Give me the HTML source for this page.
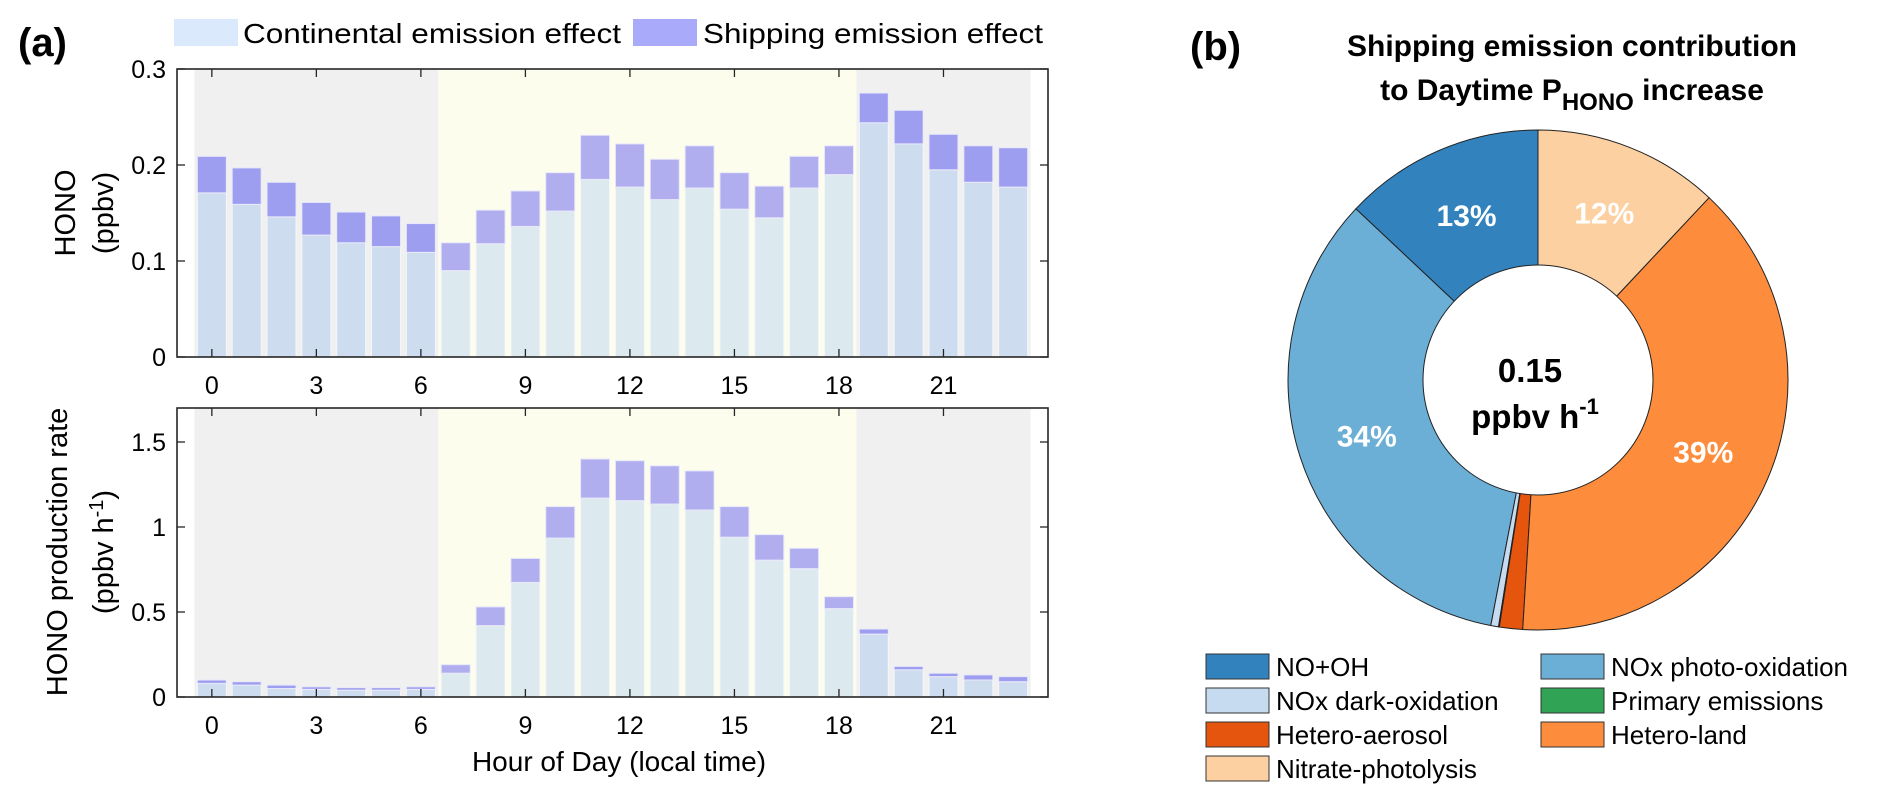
<!DOCTYPE html>
<html><head><meta charset="utf-8"><style>
html,body{margin:0;padding:0;background:#fff;}
svg{display:block;font-family:"Liberation Sans",Arial,sans-serif;}
</style></head><body>
<svg id="fig" width="1892" height="799" viewBox="0 0 1892 799" xmlns="http://www.w3.org/2000/svg">
  <text x="18" y="56" font-size="40" font-weight="bold">(a)</text>
  <g>
    <rect x="174" y="19" width="64" height="27" fill="#dbe9fd"/>
    <text x="243" y="43" font-size="28" textLength="378" lengthAdjust="spacingAndGlyphs">Continental emission effect</text>
    <rect x="633" y="19" width="64" height="27" fill="#aaaafa"/>
    <text x="703" y="43" font-size="28" textLength="340" lengthAdjust="spacingAndGlyphs">Shipping emission effect</text>
  </g>
  <g id="top"></g>
  <g id="bot"></g>
  <text x="619" y="771" font-size="28" text-anchor="middle">Hour of Day (local time)</text>
  <g>
    <text transform="translate(75,213) rotate(-90)" font-size="29" text-anchor="middle">HONO</text>
    <text transform="translate(113,213) rotate(-90)" font-size="29" text-anchor="middle">(ppbv)</text>
  </g>
  <g>
    <text transform="translate(67,552) rotate(-90)" font-size="29" text-anchor="middle">HONO production rate</text>
    <text transform="translate(113,552) rotate(-90)" font-size="29" text-anchor="middle">(ppbv h<tspan dy="-10" font-size="20">-1</tspan><tspan dy="10">)</tspan></text>
  </g>
  <text x="1190" y="60" font-size="40" font-weight="bold">(b)</text>
  <g font-weight="bold" font-size="30" text-anchor="middle">
    <text x="1572" y="56">Shipping emission contribution</text>
    <text x="1572" y="100">to Daytime P<tspan dy="10" font-size="24">HONO</tspan><tspan dy="-10"> increase</tspan></text>
  </g>
  <g id="pie"></g>
  <g font-weight="bold" font-size="33" text-anchor="middle">
    <text x="1530" y="382">0.15</text>
    <text x="1535" y="428">ppbv h<tspan dy="-14" font-size="22">-1</tspan></text>
  </g>
  <g id="pleg"></g>
</svg>
<script>
const hours = [0,1,2,3,4,5,6,7,8,9,10,11,12,13,14,15,16,17,18,19,20,21,22,23];
const honoContinental = [0.171,0.159,0.146,0.127,0.119,0.115,0.109,0.090,0.118,0.136,0.152,0.185,0.177,0.164,0.176,0.154,0.145,0.176,0.190,0.244,0.222,0.195,0.182,0.177];
const honoTotal = [0.209,0.197,0.182,0.161,0.151,0.147,0.139,0.119,0.153,0.173,0.192,0.231,0.222,0.206,0.220,0.192,0.178,0.209,0.220,0.275,0.257,0.232,0.220,0.218];
const rateContinental = [0.08,0.07,0.05,0.045,0.04,0.04,0.045,0.14,0.42,0.674,0.935,1.17,1.155,1.135,1.10,0.94,0.805,0.755,0.52,0.37,0.16,0.12,0.10,0.09];
const rateTotal = [0.10,0.09,0.07,0.06,0.055,0.055,0.06,0.19,0.53,0.815,1.12,1.40,1.39,1.36,1.33,1.12,0.955,0.875,0.59,0.40,0.18,0.14,0.13,0.12];
const xTicks = [0,3,6,9,12,15,18,21];
const topYTicks = [0,0.1,0.2,0.3];
const topYLabels = ["0","0.1","0.2","0.3"];
const botYTicks = [0,0.5,1,1.5];
const botYLabels = ["0","0.5","1","1.5"];
const pieLabels = ["NO+OH","NOx photo-oxidation","NOx dark-oxidation","Primary emissions","Hetero-aerosol","Hetero-land","Nitrate-photolysis"];
const pieValues = [13,34,0.5,0.05,1.5,39,12];
const pieColors = ["#3182bd","#6baed6","#c6dbef","#31a354","#e6550d","#fd8d3c","#fdd0a2"];
const pieText = ["13%","34%","","","","39%","12%"];

const NS="http://www.w3.org/2000/svg";
function mk(tag,attrs,parent){const e=document.createElementNS(NS,tag);for(const k in attrs)e.setAttribute(k,attrs[k]);parent.appendChild(e);return e;}
const X0=177,X1=1048;
function xs(h){return X0+(h+1)/25*(X1-X0);}
function drawChart(g,yTop,yBot,ymax,cont,tot,yt,yl,name){
  const ys=v=>yBot-v/ymax*(yBot-yTop);
  const bg1=mk('rect',{x:xs(-0.5),y:yTop,width:xs(6.5)-xs(-0.5),height:yBot-yTop,fill:'#f0f0f0'},g);
  
  
  const bg2=mk('rect',{x:xs(6.5),y:yTop,width:xs(18.5)-xs(6.5),height:yBot-yTop,fill:'#fdfdee'},g);
  
  
  const bg3=mk('rect',{x:xs(18.5),y:yTop,width:xs(23.5)-xs(18.5),height:yBot-yTop,fill:'#f0f0f0'},g);
  
  
  const bw=29;
  hours.forEach((h,i)=>{
    const day=h>=7&&h<=18;
    const x=xs(h)-bw/2;
    const c=mk('rect',{x:x,y:ys(cont[i]),width:bw,height:ys(0)-ys(cont[i]),fill:day?'#dce9ee':'#cddcee',stroke:'#f4f7fb','stroke-width':1},g);
    
    
    const s=mk('rect',{x:x,y:ys(tot[i]),width:bw,height:ys(cont[i])-ys(tot[i]),fill:day?'#b0aeee':'#9e9ef0',stroke:'#e8e8fa','stroke-width':1},g);
    
    
  });
  mk('rect',{x:X0,y:yTop,width:X1-X0,height:yBot-yTop,fill:'none',stroke:'#262626','stroke-width':1.6},g);
  xTicks.forEach(t=>{
    mk('line',{x1:xs(t),x2:xs(t),y1:yBot,y2:yBot-8,stroke:'#262626','stroke-width':1.3},g);
    mk('line',{x1:xs(t),x2:xs(t),y1:yTop,y2:yTop+8,stroke:'#262626','stroke-width':1.3},g);
    const tx=mk('text',{x:xs(t),y:yBot+37,'font-size':25,'text-anchor':'middle'},g);
    tx.textContent=t;
    
    
  });
  yt.forEach((t,i)=>{
    mk('line',{x1:X0,x2:X0+8,y1:ys(t),y2:ys(t),stroke:'#262626','stroke-width':1.3},g);
    mk('line',{x1:X1,x2:X1-8,y1:ys(t),y2:ys(t),stroke:'#262626','stroke-width':1.3},g);
    const tx=mk('text',{x:X0-11,y:ys(t)+9,'font-size':25,'text-anchor':'end'},g);
    tx.textContent=yl[i];
    
    
  });
}
drawChart(document.getElementById('top'),69,357,0.3,honoContinental,honoTotal,topYTicks,topYLabels,'hono');
drawChart(document.getElementById('bot'),408,697,1.7,rateContinental,rateTotal,botYTicks,botYLabels,'rate');

// donut
const pg=document.getElementById('pie');
const cx=1538,cy=380,R=250,r=115;
const total=pieValues.reduce((a,b)=>a+b,0);
let a0=0;
function pt(rad,a){return [cx-rad*Math.sin(a),cy-rad*Math.cos(a)];}
pieValues.forEach((v,i)=>{
  const a1=a0+v/total*2*Math.PI;
  const p0=pt(R,a0),p1=pt(R,a1);
  const large=(a1-a0)>Math.PI?1:0;
  const d=`M${cx},${cy} L${p0[0]},${p0[1]} A${R},${R} 0 ${large} 0 ${p1[0]},${p1[1]} Z`;
  const s=mk('path',{d:d,fill:pieColors[i],stroke:'#222','stroke-width':1},pg);
  
  
  if(pieText[i]){
    const m=(a0+a1)/2;const lp=pt(R*0.72,m);
    const t=mk('text',{x:lp[0],y:lp[1]+11,'font-size':30,'font-weight':'bold',fill:'#fff','text-anchor':'middle'},pg);
    t.textContent=pieText[i];
    
    
  }
  a0=a1;
});
const hole=mk('circle',{cx:cx,cy:cy,r:r,fill:'#fff',stroke:'#222','stroke-width':1},pg);



// legend
const lg=document.getElementById('pleg');
const rowsY=[666,700,734,768];
pieLabels.forEach((lab,i)=>{
  const order=[0,2,4,6,1,3,5];
  const pos=order.indexOf(i);
  const col=pos<4?0:1,row=pos<4?pos:pos-4;
  const x=col?1541:1206,y=rowsY[row];
  const sw=mk('rect',{x:x,y:y-12,width:63,height:25,fill:pieColors[i],stroke:'#333','stroke-width':1},lg);
  
  
  const t=mk('text',{x:x+70,y:y+10,'font-size':26},lg);
  t.textContent=lab;
  
  
});
</script>
</body></html>
